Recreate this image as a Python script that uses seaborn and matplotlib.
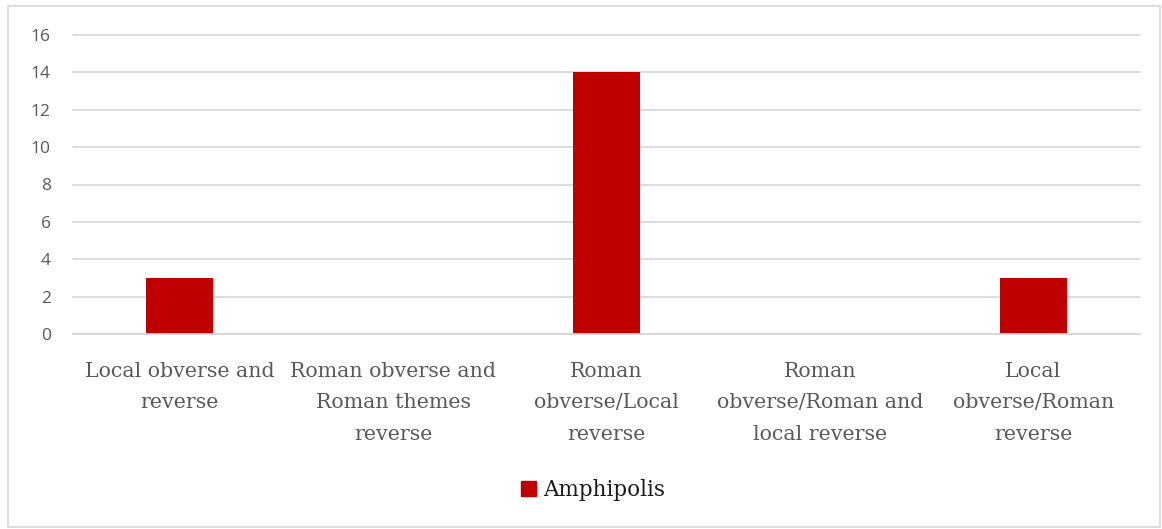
import matplotlib
matplotlib.use("Agg")
import matplotlib.pyplot as plt
import matplotlib.patches as mpatches
import pandas as pd
import seaborn as sns

categories = [
    "Local obverse and\nreverse",
    "Roman obverse and\nRoman themes\nreverse",
    "Roman\nobverse/Local\nreverse",
    "Roman\nobverse/Roman and\nlocal reverse",
    "Local\nobverse/Roman\nreverse",
]
series_name = "Amphipolis"
values = [3, 0, 14, 0, 3]
y_ticks = [0, 2, 4, 6, 8, 10, 12, 14, 16]

df = pd.DataFrame({"category": categories, "count": values, "series": series_name})

sns.set_theme(style="white")
bar_color = "#C00000"
grid_color = "#D9D9D9"
label_color = "#595959"

fig = plt.figure(figsize=(11.62, 5.29), dpi=100)
ax = fig.add_axes([73 / 1162, 1 - 334 / 529, (1140 - 73) / 1162, (334 - 35) / 529])

sns.barplot(data=df, x="category", y="count", hue="series", palette=[bar_color],
            saturation=1, width=0.314, dodge=False, linewidth=0, legend=False, ax=ax)

ax.set_ylim(0, 16)
ax.set_xlim(-0.5, len(categories) - 0.5)
ax.set_yticks(y_ticks)
ax.set_yticklabels([str(t) for t in y_ticks], fontfamily="Open Sans", fontsize=12.5,
                   color=label_color)
ax.set_xticks(range(len(categories)))
ax.set_xticklabels(categories, fontfamily="DejaVu Serif", fontsize=14.8, color=label_color,
                   linespacing=1.83, va="top")
ax.tick_params(axis="both", length=0)
ax.tick_params(axis="y", pad=16)
ax.tick_params(axis="x", pad=20)
ax.set_xlabel("")
ax.set_ylabel("")
ax.set_axisbelow(True)
ax.yaxis.grid(True, color=grid_color, linewidth=1.3)
for gl in ax.get_ygridlines():
    gl.set_clip_on(False)
ax.xaxis.grid(False)
for side in ["top", "right", "left"]:
    ax.spines[side].set_visible(False)
ax.spines["bottom"].set_color(grid_color)
ax.spines["bottom"].set_linewidth(1.3)

handle = mpatches.Patch(color=bar_color, label=series_name)
fig.legend(handles=[handle], loc="center", bbox_to_anchor=(593 / 1162, 1 - 490 / 529),
           frameon=False, handlelength=0.7, handleheight=0.7, handletextpad=0.3,
           labelcolor="#1a1a1a", prop={"family": "DejaVu Serif", "size": 15.5})

# outer chart border
fig.add_artist(mpatches.Rectangle((8 / 1162, 2 / 529), 1152 / 1162, 521 / 529,
                                  transform=fig.transFigure, fill=False,
                                  edgecolor="#D9D9D9", linewidth=1.3))

fig.savefig("out.png", dpi=100, facecolor="white")
